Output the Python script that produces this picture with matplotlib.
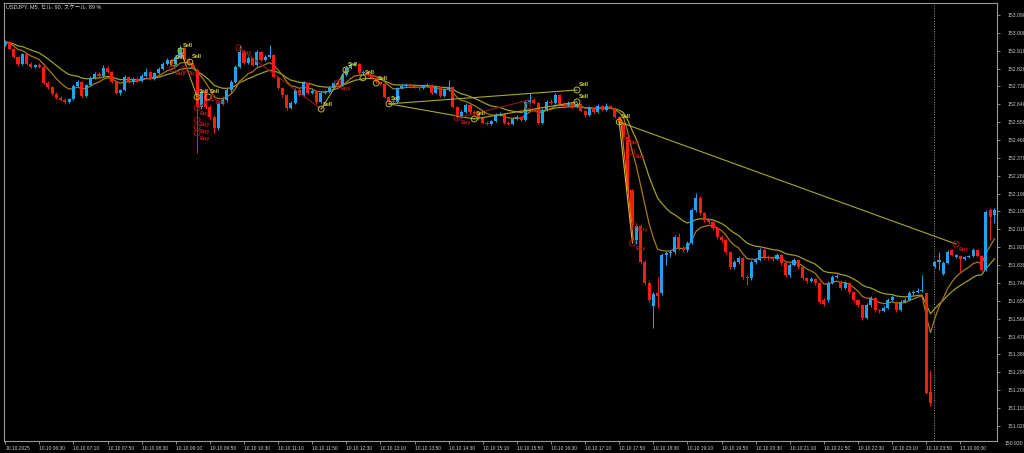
import matplotlib
matplotlib.use("Agg")
import matplotlib.pyplot as plt
import numpy as np
import pandas as pd

# --- USDJPY M5 candles, 10.10 05:50 -> 13.10 01:10 -------------------------
O = [152.939, 152.954, 152.919, 152.878, 152.843, 152.894, 152.843, 152.828, 152.838, 152.828,
     152.747, 152.727, 152.692, 152.672, 152.662, 152.652, 152.667, 152.732, 152.753, 152.682,
     152.737, 152.773, 152.793, 152.783, 152.823, 152.803, 152.753, 152.697, 152.712, 152.778,
     152.753, 152.768, 152.758, 152.783, 152.803, 152.768, 152.798, 152.818, 152.843, 152.863,
     152.843, 152.878, 152.924, 152.863, 152.843, 152.813, 152.627, 152.702, 152.627, 152.576,
     152.521, 152.642, 152.662, 152.712, 152.753, 152.828, 152.904, 152.848, 152.873, 152.838,
     152.904, 152.863, 152.878, 152.889, 152.778, 152.722, 152.687, 152.621, 152.647, 152.712,
     152.687, 152.747, 152.697, 152.707, 152.652, 152.697, 152.702, 152.722, 152.747, 152.737,
     152.788, 152.823, 152.838, 152.843, 152.798, 152.803, 152.788, 152.773, 152.753, 152.742,
     152.677, 152.657, 152.652, 152.722, 152.732, 152.737, 152.732, 152.727, 152.722, 152.732,
     152.737, 152.697, 152.727, 152.682, 152.712, 152.727, 152.627, 152.576, 152.601, 152.637,
     152.601, 152.591, 152.571, 152.546, 152.541, 152.556, 152.586, 152.591, 152.546, 152.541,
     152.566, 152.576, 152.561, 152.652, 152.662, 152.647, 152.546, 152.611, 152.652, 152.647,
     152.687, 152.642, 152.637, 152.647, 152.627, 152.642, 152.606, 152.586, 152.621, 152.601,
     152.632, 152.611, 152.632, 152.621, 152.576, 152.546, 152.475, 152.208, 151.956, 152.027,
     151.846, 151.740, 151.624, 151.690, 151.690, 151.881, 151.891, 151.896, 151.972, 151.916,
     151.906, 151.941, 152.108, 152.168, 152.093, 152.057, 152.047, 152.017, 151.972, 151.956,
     151.896, 151.820, 151.846, 151.866, 151.770, 151.765, 151.846, 151.856, 151.906, 151.871,
     151.866, 151.861, 151.881, 151.841, 151.780, 151.831, 151.856, 151.820, 151.765, 151.750,
     151.760, 151.740, 151.654, 151.654, 151.740, 151.770, 151.745, 151.715, 151.740, 151.695,
     151.654, 151.629, 151.564, 151.629, 151.664, 151.604, 151.599, 151.614, 151.654, 151.644,
     151.604, 151.644, 151.654, 151.690, 151.695, 151.700, 151.690, 151.191, 151.826, 151.846,
     151.785, 151.841, 151.906, 151.871, 151.876, 151.861, 151.871, 151.876, 151.906, 151.876,
     151.805, 152.108, 152.083]
H = [152.964, 152.959, 152.924, 152.883, 152.899, 152.899, 152.853, 152.843, 152.848, 152.833,
     152.757, 152.732, 152.702, 152.682, 152.672, 152.672, 152.742, 152.763, 152.758, 152.742,
     152.783, 152.803, 152.803, 152.838, 152.833, 152.808, 152.758, 152.717, 152.788, 152.783,
     152.778, 152.778, 152.793, 152.823, 152.808, 152.803, 152.828, 152.853, 152.873, 152.868,
     152.888, 152.939, 152.929, 152.873, 152.848, 152.823, 152.712, 152.712, 152.637, 152.586,
     152.652, 152.677, 152.722, 152.763, 152.838, 152.939, 152.909, 152.883, 152.878, 152.914,
     152.909, 152.888, 152.939, 152.894, 152.783, 152.727, 152.692, 152.657, 152.722, 152.717,
     152.757, 152.752, 152.717, 152.712, 152.707, 152.712, 152.732, 152.757, 152.752, 152.798,
     152.833, 152.848, 152.853, 152.848, 152.813, 152.808, 152.793, 152.778, 152.758, 152.747,
     152.682, 152.667, 152.727, 152.742, 152.747, 152.747, 152.742, 152.737, 152.737, 152.747,
     152.742, 152.732, 152.732, 152.722, 152.763, 152.732, 152.632, 152.611, 152.647, 152.642,
     152.611, 152.596, 152.576, 152.556, 152.561, 152.596, 152.601, 152.596, 152.556, 152.576,
     152.586, 152.581, 152.662, 152.697, 152.672, 152.652, 152.621, 152.662, 152.667, 152.697,
     152.692, 152.652, 152.657, 152.652, 152.652, 152.647, 152.611, 152.632, 152.627, 152.642,
     152.637, 152.647, 152.637, 152.627, 152.581, 152.551, 152.480, 152.213, 152.037, 152.037,
     151.856, 151.750, 151.695, 151.770, 151.891, 151.901, 151.906, 151.982, 151.992, 151.926,
     151.951, 152.118, 152.193, 152.178, 152.098, 152.067, 152.052, 152.022, 151.982, 151.961,
     151.901, 151.856, 151.876, 151.871, 151.780, 151.856, 151.866, 151.916, 151.916, 151.881,
     151.876, 151.891, 151.886, 151.846, 151.841, 151.866, 151.861, 151.826, 151.770, 151.770,
     151.765, 151.745, 151.664, 151.750, 151.780, 151.785, 151.755, 151.750, 151.745, 151.700,
     151.659, 151.634, 151.639, 151.674, 151.669, 151.609, 151.624, 151.664, 151.680, 151.649,
     151.654, 151.664, 151.700, 151.705, 151.715, 151.780, 151.695, 151.302, 151.851, 151.896,
     151.851, 151.906, 151.911, 151.886, 151.881, 151.876, 151.881, 151.916, 151.911, 151.881,
     152.108, 152.118, 152.118]
L = [152.934, 152.914, 152.873, 152.833, 152.838, 152.838, 152.823, 152.823, 152.823, 152.742,
     152.717, 152.687, 152.667, 152.657, 152.642, 152.647, 152.662, 152.727, 152.677, 152.677,
     152.732, 152.768, 152.778, 152.778, 152.798, 152.748, 152.692, 152.687, 152.707, 152.748,
     152.743, 152.753, 152.753, 152.778, 152.763, 152.763, 152.793, 152.813, 152.838, 152.833,
     152.838, 152.873, 152.858, 152.838, 152.818, 152.395, 152.617, 152.617, 152.566, 152.495,
     152.511, 152.637, 152.652, 152.702, 152.748, 152.823, 152.843, 152.843, 152.833, 152.833,
     152.858, 152.858, 152.873, 152.773, 152.717, 152.677, 152.611, 152.616, 152.642, 152.682,
     152.677, 152.692, 152.692, 152.642, 152.647, 152.692, 152.697, 152.717, 152.732, 152.732,
     152.783, 152.818, 152.833, 152.793, 152.793, 152.783, 152.768, 152.748, 152.737, 152.672,
     152.647, 152.642, 152.647, 152.717, 152.727, 152.727, 152.722, 152.712, 152.717, 152.727,
     152.692, 152.692, 152.677, 152.677, 152.707, 152.622, 152.566, 152.571, 152.596, 152.591,
     152.586, 152.561, 152.541, 152.536, 152.536, 152.551, 152.581, 152.541, 152.536, 152.536,
     152.561, 152.556, 152.556, 152.647, 152.642, 152.541, 152.541, 152.606, 152.642, 152.642,
     152.637, 152.627, 152.632, 152.622, 152.622, 152.601, 152.576, 152.581, 152.596, 152.596,
     152.606, 152.606, 152.616, 152.571, 152.541, 152.470, 152.198, 152.022, 151.936, 151.836,
     151.730, 151.644, 151.513, 151.614, 151.680, 151.831, 151.871, 151.886, 151.906, 151.896,
     151.896, 151.936, 152.098, 152.083, 152.047, 152.037, 152.007, 151.962, 151.946, 151.886,
     151.810, 151.810, 151.836, 151.760, 151.730, 151.755, 151.836, 151.851, 151.861, 151.856,
     151.851, 151.856, 151.831, 151.770, 151.770, 151.826, 151.810, 151.755, 151.740, 151.745,
     151.730, 151.634, 151.624, 151.644, 151.735, 151.765, 151.705, 151.710, 151.685, 151.644,
     151.619, 151.554, 151.559, 151.619, 151.594, 151.589, 151.594, 151.609, 151.649, 151.594,
     151.599, 151.639, 151.649, 151.680, 151.690, 151.695, 151.181, 151.120, 151.816, 151.805,
     151.780, 151.836, 151.876, 151.866, 151.795, 151.856, 151.866, 151.871, 151.871, 151.800,
     151.800, 151.956, 152.042]
C = [152.954, 152.919, 152.878, 152.843, 152.894, 152.843, 152.828, 152.838, 152.828, 152.747,
     152.727, 152.692, 152.672, 152.662, 152.652, 152.667, 152.732, 152.753, 152.682, 152.737,
     152.773, 152.793, 152.783, 152.823, 152.803, 152.753, 152.697, 152.712, 152.778, 152.753,
     152.768, 152.758, 152.783, 152.803, 152.768, 152.798, 152.818, 152.843, 152.863, 152.843,
     152.878, 152.924, 152.863, 152.843, 152.823, 152.627, 152.702, 152.627, 152.576, 152.521,
     152.642, 152.662, 152.712, 152.753, 152.828, 152.904, 152.848, 152.873, 152.838, 152.904,
     152.863, 152.878, 152.889, 152.778, 152.722, 152.687, 152.621, 152.647, 152.712, 152.687,
     152.747, 152.697, 152.707, 152.652, 152.697, 152.702, 152.722, 152.747, 152.737, 152.788,
     152.823, 152.838, 152.843, 152.798, 152.803, 152.788, 152.773, 152.753, 152.742, 152.677,
     152.657, 152.652, 152.722, 152.732, 152.737, 152.732, 152.727, 152.722, 152.732, 152.737,
     152.697, 152.727, 152.682, 152.712, 152.727, 152.627, 152.576, 152.601, 152.637, 152.601,
     152.591, 152.571, 152.546, 152.541, 152.556, 152.586, 152.591, 152.546, 152.541, 152.566,
     152.576, 152.561, 152.652, 152.662, 152.647, 152.546, 152.611, 152.652, 152.647, 152.687,
     152.642, 152.637, 152.647, 152.627, 152.642, 152.606, 152.586, 152.621, 152.601, 152.632,
     152.611, 152.632, 152.621, 152.576, 152.546, 152.475, 152.208, 152.032, 152.027, 151.846,
     151.740, 151.654, 151.685, 151.674, 151.881, 151.891, 151.896, 151.972, 151.916, 151.906,
     151.941, 152.108, 152.168, 152.093, 152.057, 152.047, 152.017, 151.972, 151.956, 151.896,
     151.820, 151.846, 151.866, 151.770, 151.765, 151.846, 151.856, 151.906, 151.871, 151.866,
     151.861, 151.881, 151.841, 151.780, 151.831, 151.856, 151.820, 151.765, 151.750, 151.760,
     151.740, 151.644, 151.634, 151.740, 151.770, 151.775, 151.715, 151.740, 151.695, 151.654,
     151.629, 151.564, 151.629, 151.664, 151.604, 151.599, 151.614, 151.654, 151.669, 151.604,
     151.644, 151.654, 151.690, 151.695, 151.700, 151.705, 151.186, 151.135, 151.846, 151.856,
     151.841, 151.896, 151.881, 151.881, 151.861, 151.871, 151.876, 151.906, 151.876, 151.805,
     152.098, 152.072, 152.108]

# signal markers: (bar position, price)
sell_pos = [39.4, 41.2, 43.3, 45.0, 47.6, 74.1, 79.9, 83.9, 87.0, 90.0, 110.0, 134.1, 134.1, 144.0]
sell_prc = [152.848, 152.909, 152.853, 152.677, 152.677, 152.616, 152.813, 152.773, 152.747,
            152.642, 152.566, 152.712, 152.652, 152.551]
buy_pos = [39.2, 42.0, 45.0, 45.0, 45.0, 45.0, 48.7, 54.8, 78.0, 106.0, 122.5,
           145.8, 147.0, 147.5, 147.1, 223.0]
buy_prc = [152.818, 152.818, 152.621, 152.561, 152.526, 152.495, 152.672, 152.924, 152.747,
           152.571, 152.632, 152.475, 152.400, 152.032, 151.941, 151.936]

# signal connector segments: (bar0, price0, bar1, price1, colour)
links = [
    (144.0, 152.551, 223.0, 151.936, "#a8a82a"),
    (144.0, 152.551, 147.1, 151.941, "#c8c832"),
    (144.3, 152.571, 147.3, 151.956, "#ff6a10"),
    (90.0, 152.642, 134.1, 152.712, "#a8a82a"),
    (90.0, 152.642, 110.0, 152.566, "#a8a82a"),
    (110.0, 152.566, 134.1, 152.652, "#a8a82a"),
    (106.0, 152.571, 123.0, 152.662, "#8c1a1a"),
    (54.8, 152.924, 74.1, 152.616, "#8c1a1a"),
    (74.1, 152.616, 79.9, 152.813, "#a8a82a"),
    (41.2, 152.909, 45.0, 152.677, "#a8a82a"),
    (45.0, 152.621, 48.7, 152.672, "#8c1a1a"),
]

ytick_vals = [153.090, 153.000, 152.910, 152.820, 152.730, 152.640, 152.550, 152.460, 152.370,
              152.280, 152.190, 152.100, 152.010, 151.920, 151.830, 151.740, 151.650, 151.560,
              151.470, 151.380, 151.290, 151.200, 151.110, 151.020, 150.930]
xtick_pos = list(range(0, 225, 8))
xtick_lbl = ["10.10.2025", "10.10 06:30", "10.10 07:10", "10.10 07:50", "10.10 08:30",
             "10.10 09:10", "10.10 09:50", "10.10 10:30", "10.10 11:10", "10.10 11:50",
             "10.10 12:30", "10.10 13:10", "10.10 13:50", "10.10 14:30", "10.10 15:10",
             "10.10 15:50", "10.10 16:30", "10.10 17:10", "10.10 17:50", "10.10 18:30",
             "10.10 19:10", "10.10 19:50", "10.10 20:30", "10.10 21:10", "10.10 21:50",
             "10.10 22:30", "10.10 23:10", "10.10 23:50", "13.10 00:30"]
day_break = 217.9

UP, DOWN = "#1fa3f0", "#ff1a10"
TXT = "#cccccc"
FONT = ["Liberation Sans", "Noto Sans CJK JP", "DejaVu Sans"]
plt.rcParams["font.family"] = FONT

o, h, l, c = map(np.asarray, (O, H, L, C))
x = np.arange(len(c))
up = c >= o
col = np.where(up, UP, DOWN)

fig = plt.figure(figsize=(10.24, 4.53), dpi=100, facecolor="black")
ax = fig.add_axes([4 / 1024, 12 / 453, 993 / 1024, 438 / 453])
ax.set_facecolor("black")

# moving averages
ema_fast = pd.Series(c).ewm(span=9, adjust=False).mean()
ema_slow = pd.Series(c).ewm(span=20, adjust=False).mean()
ax.plot(x, ema_slow, color="#a09e22", lw=0.9, zorder=2)
ax.plot(x, ema_fast, color="#a87812", lw=0.9, zorder=2)

# candles
ax.vlines(x, l, h, colors=col, lw=0.7, zorder=3)
body = np.maximum(np.abs(c - o), 0.0025)
ax.bar(x, body, bottom=np.minimum(o, c), width=0.72, color=col, lw=0, zorder=3)

# signal links
for b0, p0, b1, p1, lc in links:
    ax.plot([b0, b1], [p0, p1], color=lc, lw=0.8, zorder=4)

# signal markers
ax.scatter(sell_pos, sell_prc, s=18, facecolors="none", edgecolors="#b8b830", lw=0.7, zorder=5)
ax.scatter(buy_pos, buy_prc, s=18, facecolors="none", edgecolors="#a01414", lw=0.7, zorder=5)
for bp, pp in zip(sell_pos, sell_prc):
    ax.annotate("Sell", (bp, pp), xytext=(2, 5), textcoords="offset pixels",
                color="#d8d840", fontsize=4.0, fontweight="bold", ha="left", va="center", zorder=6)
for bp, pp in zip(buy_pos, buy_prc):
    ax.annotate("Buy", (bp, pp), xytext=(3, -5), textcoords="offset pixels",
                color="#c01818", fontsize=4.0, fontweight="bold", ha="left", va="center", zorder=6)

# day separator
ax.axvline(day_break, color="#9a9a9a", lw=0.7, ls=(0, (1, 1.6)), zorder=1)

ax.set_xlim(-0.28, 232.6)
ax.set_ylim(150.944, 153.150)

ax.yaxis.tick_right()
shown = [v for v in ytick_vals if v > 150.944]
ax.set_yticks(shown)
ax.set_yticklabels([f"{v:.3f}" for v in shown])
ax.tick_params(axis="y", colors="#a0a0a0", labelcolor=TXT, labelsize=3.7, length=2.5,
               width=0.6, pad=5)
ax.text(1.0 + 8 / 993, ytick_vals[-1], f"{ytick_vals[-1]:.3f}",
        transform=ax.get_yaxis_transform(), color=TXT, fontsize=3.7,
        ha="left", va="center", clip_on=False)

ax.set_xticks(xtick_pos)
ax.set_xticklabels(xtick_lbl)
ax.tick_params(axis="x", colors="#a0a0a0", labelcolor=TXT, labelsize=3.5, length=2,
               width=0.6, pad=1.5)
for lbl in ax.get_xticklabels():
    lbl.set_ha("left")

for sp in ax.spines.values():
    sp.set_color("#9a9a9a")
    sp.set_linewidth(0.8)

fig.text(6 / 1024, 1 - 8 / 453, "USDJPY, M5, セル: 90, スケール: 89 %", color="#d8d8d8",
         fontsize=4.0, ha="left", va="center")

fig.savefig("out.png", dpi=100, facecolor="black")
